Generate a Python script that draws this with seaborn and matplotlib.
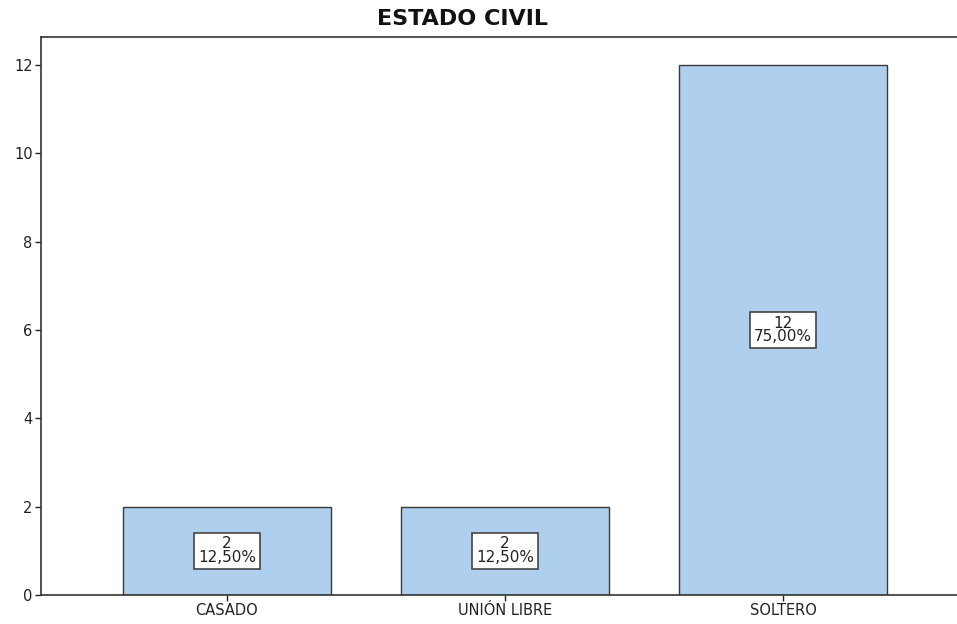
import pandas as pd
import matplotlib.pyplot as plt
import seaborn as sns

# Data
categories = ['CASADO', 'UNIÓN LIBRE', 'SOLTERO']
counts = [2, 2, 12]
percents = ['12,50%', '12,50%', '75,00%']

df = pd.DataFrame({'estado': categories, 'n': counts})

sns.set_style('white')
plt.rcParams['font.family'] = ['DejaVu Sans']

fig = plt.figure(figsize=(9.57, 6.24), dpi=100)
ax = fig.add_axes([0.0428, 0.0465, 0.9572, 0.8942])

sns.barplot(data=df, x='estado', y='n', color='#AECFEE', saturation=1,
            width=0.75, edgecolor='#3a3a3a', linewidth=1.0, ax=ax)

# count / percent boxes in the middle of each bar
for i, (n, p) in enumerate(zip(counts, percents)):
    ax.text(i, n / 2, f'{n}\n{p}', ha='center', va='center', fontsize=11,
            linespacing=0.9, color='#222222',
            bbox=dict(boxstyle='square,pad=0.25', facecolor='white',
                      edgecolor='#444444', linewidth=1.2))

ax.set_xlim(-0.669, 2.626)
ax.set_ylim(0, 12.63)
ax.set_yticks([0, 2, 4, 6, 8, 10, 12])
ax.set_xlabel('')
ax.set_ylabel('')
ax.tick_params(axis='both', labelsize=10.5, colors='#222222', length=4,
               width=1, direction='out', left=True, bottom=True, pad=2)
for side in ['left', 'bottom', 'top']:
    ax.spines[side].set_color('#333333')
    ax.spines[side].set_linewidth(1.2)
ax.spines['right'].set_visible(False)

fig.text(0.483, 0.9696, 'ESTADO CIVIL', ha='center', va='center',
         fontsize=16, fontweight='bold', color='#111111')

fig.savefig('out.png', dpi=100)
